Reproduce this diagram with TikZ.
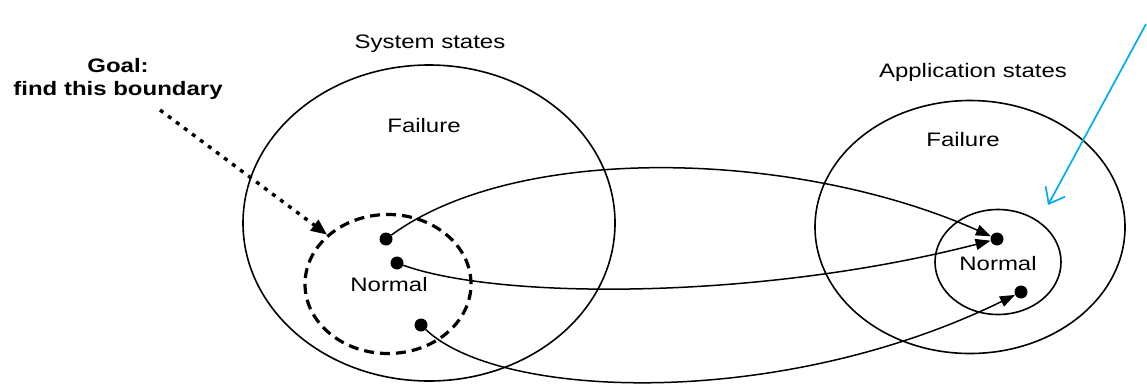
\documentclass[tikz,border=0pt]{standalone}
\usepackage{fontspec}
\setmainfont{Liberation Sans}[FakeStretch=1.23]
\usetikzlibrary{shapes.geometric, arrows.meta, positioning}
\definecolor{pointerblue}{RGB}{0,174,239}

\begin{document}
\begin{tikzpicture}[x=1pt, y=-1pt,
      region/.style={ellipse, draw, line width=1.6pt, inner sep=0pt},
      lbl/.style={font=\fontsize{19.5}{23}\selectfont, inner sep=0pt, align=center},
      dot/.style={circle, fill, inner sep=0pt, minimum size=13pt},
      flecha/.style={-{Triangle[length=15pt, width=11pt]}, line width=1.5pt}
    ]
      \useasboundingbox (0,0) rectangle (1147,383);

      % state spaces
      \node[region, minimum width=372pt, minimum height=316pt] (sys) at (429,223) {};
      \node[region, dashed, line width=3.2pt, dash pattern=on 10pt off 6pt,
        minimum width=166pt, minimum height=139pt] (normL) at (388,284) {};
      \node[region, minimum width=310pt, minimum height=253pt] (app) at (970,227) {};
      \node[region, minimum width=126pt, minimum height=105pt] (normR) at (998,262) {};

      \node[lbl] (syslbl) at (430,44) {System states};
      \node[lbl] (failL) at (424,126) {Failure};
      \node[lbl] (normLlbl) at (389,285) {Normal};
      \node[lbl] (applbl) at (973,72) {Application states};
      \node[lbl] (failR) at (963,140) {Failure};
      \node[lbl] (normRlbl) at (998,264) {Normal};
      \node[lbl, font=\fontsize{19.5}{23}\selectfont\bfseries] (goal) at (118,79) {Goal:\\find this boundary};

      % states
      \node[dot] (s1) at (386,239) {};
      \node[dot] (s2) at (397,263) {};
      \node[dot] (s3) at (421,325) {};
      \node[dot] (a1) at (997,239) {};
      \node[dot] (a2) at (1021,292) {};

      \draw[flecha] (s1) .. controls (520,141) and (800,151) .. (a1);
      \draw[flecha] (s2) .. controls (500,300) and (760,300) .. (a1);
      \draw[flecha] (s3) .. controls (500,400) and (780,410) .. (a2);

      % pointers
      \coordinate (goaltail) at (160,110);
      \draw[line width=3.4pt, dash pattern=on 4pt off 6pt,
        -{Triangle[length=16pt, width=13pt]}] (goaltail) -- (normL.141);
      \coordinate (bluetail) at (1146,24);
      \coordinate (bluehead) at (1048,205);
      \draw[pointerblue, line width=1.7pt,
        -{Straight Barb[length=14pt, width=22pt]}] (bluetail) -- (bluehead);
    \end{tikzpicture}
\end{document}
